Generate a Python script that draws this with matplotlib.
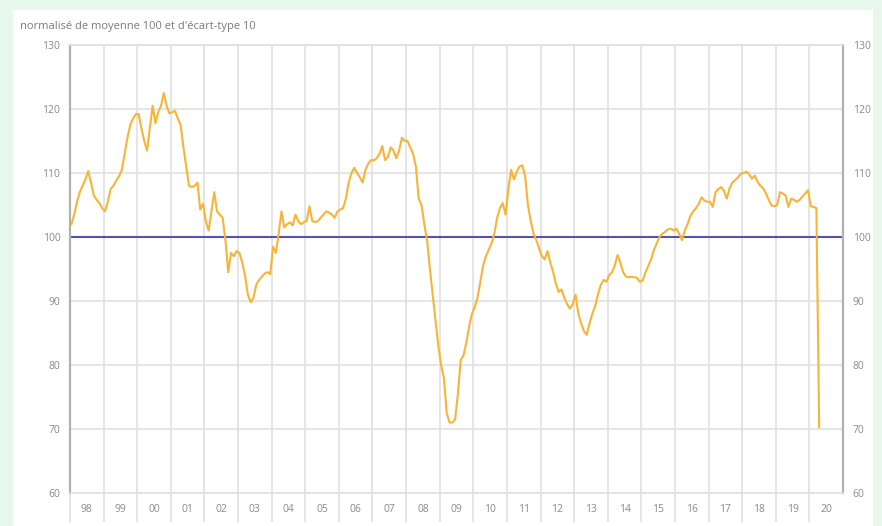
import numpy as np
import matplotlib.pyplot as plt
from matplotlib.patches import Rectangle

plt.rcParams['font.family'] = ['Open Sans', 'DejaVu Sans']

# monthly values, Jan 1998 .. Apr 2020
y1998 = [102, 103.5, 105.5, 107, 108, 109, 110.3, 108.5, 106.5, 105.8, 105.3, 104.5]
y1999 = [104, 105.5, 107.5, 108, 108.8, 109.5, 110.5, 113, 115.5, 117.5, 118.5, 119.2]
y2000 = [119.2, 117, 115, 113.5, 117, 120.5, 117.8, 119.5, 120.5, 122.5, 120.5, 119.3]
y2001 = [119.5, 119.7, 118.5, 117.5, 114, 111, 108, 107.8, 108, 108.5, 104.3, 105.2]
y2002 = [102.5, 101, 104, 107, 104, 103.5, 103, 99.5, 94.5, 97.5, 97, 97.8]
y2003 = [97.5, 96, 94, 91, 89.8, 90.5, 92.5, 93.3, 93.8, 94.3, 94.5, 94.2]
y2004 = [98.5, 97.5, 100.5, 104, 101.5, 102, 102.3, 101.8, 103.5, 102.5, 102, 102.3]
y2005 = [102.5, 104.8, 102.5, 102.3, 102.5, 103, 103.5, 104, 103.8, 103.5, 103, 104]
y2006 = [104.3, 104.5, 106, 108.5, 110, 110.8, 110, 109.3, 108.5, 110.5, 111.5, 112]
y2007 = [112, 112.3, 113, 114.2, 112, 112.5, 114, 113.5, 112.3, 113.5, 115.5, 115]
y2008 = [115, 114, 113, 111, 106, 105, 102, 99.5, 95, 91, 87, 83]
y2009 = [80, 78, 72.5, 71, 71, 71.5, 75.5, 80.8, 81.5, 83.5, 86, 88]
y2010 = [89, 90.5, 93, 95.5, 97, 98, 99, 100.5, 103, 104.5, 105.3, 103.5]
y2011 = [107.5, 110.5, 109, 110.2, 111, 111.2, 109.5, 105, 102.5, 100.5, 99.5, 98.2]
y2012 = [97, 96.5, 97.8, 96, 94.5, 92.7, 91.4, 91.8, 90.5, 89.5, 88.8, 89.5]
y2013 = [91, 88, 86.5, 85.3, 84.7, 86.5, 88, 89.2, 91, 92.5, 93.3, 93]
y2014 = [94, 94.5, 95.5, 97.2, 96, 94.5, 93.8, 93.7, 93.8, 93.7, 93.6, 93]
y2015 = [93.2, 94.5, 95.5, 96.5, 98, 99, 100, 100.5, 100.8, 101.2, 101.3, 101]
y2016 = [101.3, 100.5, 99.5, 101, 102, 103.3, 104, 104.5, 105.2, 106.2, 105.7, 105.5]
y2017 = [105.5, 104.7, 107, 107.5, 107.8, 107.2, 106, 107.6, 108.5, 108.9, 109.3, 109.9]
y2018 = [110, 110.2, 109.8, 109.1, 109.6, 108.6, 108, 107.6, 106.8, 105.8, 104.9, 104.8]
y2019 = [105, 107, 106.8, 106.5, 104.7, 106, 105.8, 105.5, 105.8, 106.3, 106.8, 107.3]
y2020 = [104.8, 104.7, 104.5, 70.3]

values = (y1998 + y1999 + y2000 + y2001 + y2002 + y2003 + y2004 + y2005 + y2006
          + y2007 + y2008 + y2009 + y2010 + y2011 + y2012 + y2013 + y2014
          + y2015 + y2016 + y2017 + y2018 + y2019 + y2020)
first_year = 1998
years = list(range(1998, 2021))
year_labels = ["%02d" % (y % 100) for y in years]
y_ticks = [60, 70, 80, 90, 100, 110, 120, 130]
ref_level = 100
title = "normalisé de moyenne 100 et d'écart-type 10"

n = len(values)
t = [first_year + (i + 0.5) / 12 for i in range(n)]

fig = plt.figure(figsize=(8.82, 5.26), dpi=100)
fig.patch.set_facecolor("#e7f7eb")
fig.patches.append(Rectangle((13 / 882, 0), 860 / 882, 1 - 10 / 526,
                             transform=fig.transFigure, facecolor="white",
                             edgecolor="none", zorder=-10))

ax = fig.add_axes([70 / 882, 1 - 493 / 526, 773 / 882, 448 / 526])
ax.set_facecolor("white")

ax.plot(t, values, color="#f7b437", lw=1.5, zorder=3, solid_joinstyle="round")
ax.axhline(ref_level, color="#5553b0", lw=1.5, zorder=2)

ax.set_xlim(years[0], years[-1] + 1)
ax.set_ylim(60, 130)

# y axis on both sides
ax.set_yticks(y_ticks)
ax.tick_params(axis="y", length=0, labelsize=7.5, labelcolor="#8a8a8a",
               pad=7, left=True, right=True, labelleft=True, labelright=True)
ax.grid(axis="y", color="#e0e0e0", lw=1.2, zorder=1)

# years: separators at boundaries, labels centered in each band
ax.set_xticks([y + 1 for y in years[:-1]] + [years[0]], minor=True)
ax.set_xticks([y + 0.5 for y in years])
ax.set_xticklabels(year_labels)
ax.tick_params(axis="x", which="major", length=0, labelsize=7.5,
               labelcolor="#8a8a8a", pad=8)
ax.tick_params(axis="x", which="minor", length=21, width=1.2,
               color="#e0e0e0", direction="out")
ax.grid(axis="x", which="minor", color="#e0e0e0", lw=1.2, zorder=1)

for side in ["left", "right"]:
    ax.spines[side].set_color("#b0b0b0")
    ax.spines[side].set_linewidth(1.6)
for side in ["top", "bottom"]:
    ax.spines[side].set_color("#e0e0e0")
    ax.spines[side].set_linewidth(1.2)

fig.text(20 / 882, 1 - 26 / 526, title, color="#7a7a7a", fontsize=8,
         va="center", ha="left")

fig.savefig("out.png", dpi=100, facecolor=fig.get_facecolor())
